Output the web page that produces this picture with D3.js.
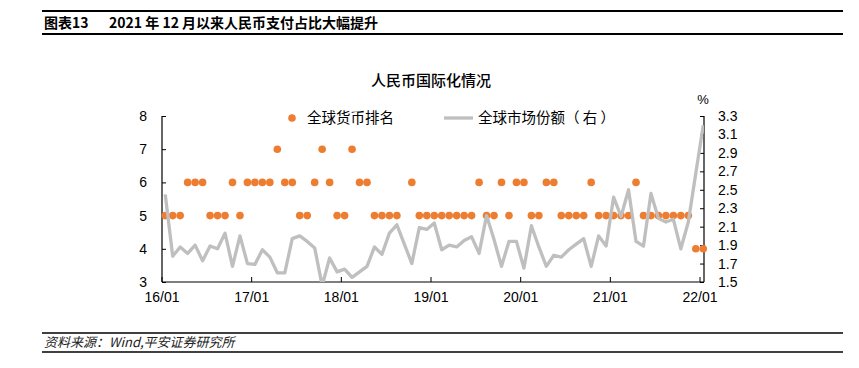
<!DOCTYPE html>
<html lang="zh">
  <head>
    <meta charset="UTF-8" />
    <title>人民币国际化情况</title>
    <style>
      body {
        margin: 0;
        background: #fff;
        font-family: "Liberation Sans", Arial, "Noto Sans CJK SC", sans-serif;
      }
      .cjk {
        font-family: "Noto Sans CJK SC", sans-serif;
      }
      .axis text {
        font-family: "Liberation Sans", Arial, sans-serif;
        font-size: 14px;
        fill: #000;
      }
    </style>
  </head>
  <body>
    <div id="chart"></div>
    <script src="https://d3js.org/d3.v7.min.js"></script>
    <script>
      // 月份：2016/01 — 2022/01
      const months = d3
        .timeMonths(new Date(2016, 0, 1), new Date(2022, 1, 1))
        .map((d) => d3.timeFormat("%y/%m")(d));

      // 全球货币排名（左轴），2018/09 缺失
      const rank = [
        5, 5, 5, 6, 6, 6, 5, 5, 5, 6, 5, 6,
        6, 6, 6, 7, 6, 6, 5, 5, 6, 7, 6, 5,
        5, 7, 6, 6, 5, 5, 5, 5, null, 6, 5, 5,
        5, 5, 5, 5, 5, 5, 6, 5, 5, 6, 5, 6,
        6, 5, 5, 6, 6, 5, 5, 5, 5, 6, 5, 5,
        5, 5, 5, 6, 5, 5, 5, 5, 5, 5, 5, 4, 4,
      ];

      // 全球市场份额 %（右轴）
      const share = [
        2.45, 1.78, 1.88, 1.81, 1.9, 1.73, 1.89, 1.86, 2.03, 1.67, 2.0, 1.7,
        1.69, 1.85, 1.77, 1.6, 1.6, 1.97, 2.0, 1.94, 1.87, 1.46, 1.76, 1.61,
        1.64, 1.55, 1.61, 1.67, 1.88, 1.8, 2.03, 2.12, null, 1.7, 2.09, 2.07,
        2.14, 1.85, 1.9, 1.88, 1.95, 1.99, 1.81, 2.22, 1.96, 1.67, 1.94, 1.94,
        1.65, 2.11, 1.88, 1.67, 1.79, 1.77, 1.85, 1.91, 1.97, 1.67, 2.0, 1.89,
        2.42, 2.21, 2.5, 1.94, 1.89, 2.46, 2.19, 2.15, 2.18, 1.86, 2.15, 2.68, 3.2,
      ];

      const xTickLabels = ["16/01", "17/01", "18/01", "19/01", "20/01", "21/01", "22/01"];
      const leftTicks = [3, 4, 5, 6, 7, 8];
      const rightTicks = [1.5, 1.7, 1.9, 2.1, 2.3, 2.5, 2.7, 2.9, 3.1, 3.3];

      const width = 859;
      const height = 368;
      const plot = { left: 162, right: 704, top: 116, bottom: 282 };

      const svg = d3
        .select("#chart")
        .append("svg")
        .attr("width", width)
        .attr("height", height);

      // 页眉与页脚
      svg.append("line").attr("x1", 42).attr("x2", 843).attr("y1", 11).attr("y2", 11)
        .attr("stroke", "#000").attr("stroke-width", 2);
      svg.append("line").attr("x1", 42).attr("x2", 843).attr("y1", 34).attr("y2", 34)
        .attr("stroke", "#000").attr("stroke-width", 2);
      svg.append("text")
        .attr("class", "cjk")
        .attr("x", 44)
        .attr("y", 28)
        .attr("font-size", 14)
        .attr("font-weight", "bold")
        .attr("fill", "#000")
        .text("图表13");
      svg.append("text")
        .attr("class", "cjk")
        .attr("x", 109)
        .attr("y", 28)
        .attr("font-size", 14)
        .attr("font-weight", "bold")
        .attr("fill", "#000")
        .text("2021 年 12 月以来人民币支付占比大幅提升");

      svg.append("line").attr("x1", 42).attr("x2", 843).attr("y1", 333).attr("y2", 333)
        .attr("stroke", "#000").attr("stroke-width", 1.5);
      svg.append("line").attr("x1", 42).attr("x2", 843).attr("y1", 352).attr("y2", 352)
        .attr("stroke", "#000").attr("stroke-width", 1.5);
      svg.append("text")
        .attr("class", "cjk")
        .attr("x", 44)
        .attr("y", 347)
        .attr("font-size", 13)
        .attr("font-style", "italic")
        .attr("fill", "#222")
        .text("资料来源：Wind,平安证券研究所");

      // 图表标题
      svg.append("text")
        .attr("class", "cjk")
        .attr("x", 431)
        .attr("y", 86)
        .attr("text-anchor", "middle")
        .attr("font-size", 15)
        .attr("font-weight", 500)
        .attr("fill", "#000")
        .text("人民币国际化情况");

      // 比例尺
      const x = d3.scaleBand().domain(months).range([plot.left - 0.5, plot.right + 3]);
      const xTick = d3.scaleLinear().domain([0, months.length]).range(x.range());
      const yL = d3.scaleLinear().domain([3, 8]).range([plot.bottom, plot.top]);
      const yR = d3.scaleLinear().domain([1.5, 3.3]).range([plot.bottom, plot.top]);
      const cx = (i) => x(months[i]) + x.bandwidth() / 2;

      // 坐标轴
      svg.append("g")
        .attr("class", "axis")
        .attr("transform", `translate(${plot.left},0)`)
        .call(d3.axisLeft(yL).tickValues(leftTicks).tickFormat(d3.format("d"))
          .tickSize(-4).tickSizeOuter(0).tickPadding(15))
        .call((g) => g.select(".domain").remove());

      svg.append("g")
        .attr("class", "axis")
        .attr("transform", `translate(${plot.right},0)`)
        .call(d3.axisRight(yR).tickValues(rightTicks).tickFormat(d3.format(".1f"))
          .tickSize(-4).tickSizeOuter(0).tickPadding(14))
        .call((g) => g.select(".domain").remove());

      svg.append("g")
        .attr("class", "axis")
        .attr("transform", `translate(0,${plot.bottom})`)
        .call(d3.axisBottom(xTick).tickValues(d3.range(0, months.length, 12))
          .tickFormat((d, i) => xTickLabels[i]).tickSize(-5).tickSizeOuter(0).tickPadding(10))
        .call((g) => g.select(".domain").remove());

      svg.selectAll(".axis .tick line").attr("stroke", "#000");

      const axisLines = [
        [plot.left, plot.top, plot.left, plot.bottom],
        [plot.right, plot.top, plot.right, plot.bottom],
        [plot.left, plot.bottom, plot.right, plot.bottom],
      ];
      svg.selectAll(".axis-line")
        .data(axisLines)
        .enter()
        .append("line")
        .attr("x1", (d) => d[0]).attr("y1", (d) => d[1])
        .attr("x2", (d) => d[2]).attr("y2", (d) => d[3])
        .attr("stroke", "#000")
        .attr("stroke-width", 1.2);

      svg.append("text")
        .attr("x", 703)
        .attr("y", 104)
        .attr("text-anchor", "middle")
        .attr("font-size", 13)
        .text("%");

      // 裁剪区
      svg.append("clipPath").attr("id", "plot-clip")
        .append("rect")
        .attr("x", plot.left).attr("y", plot.top)
        .attr("width", plot.right - plot.left).attr("height", plot.bottom - plot.top);

      // 排名散点
      const rankPts = rank.map((v, i) => ({ i, v })).filter((d) => d.v != null);
      svg.append("g")
        .selectAll("circle")
        .data(rankPts)
        .enter()
        .append("circle")
        .attr("cx", (d) => cx(d.i))
        .attr("cy", (d) => yL(d.v))
        .attr("r", 3.8)
        .attr("fill", "#ED7D31");

      // 市场份额折线
      const sharePts = share.map((v, i) => ({ i, v })).filter((d) => d.v != null);
      svg.append("path")
        .datum(sharePts)
        .attr("clip-path", "url(#plot-clip)")
        .attr("fill", "none")
        .attr("stroke", "#BFBFBF")
        .attr("stroke-width", 3.3)
        .attr("stroke-linejoin", "round")
        .attr("d", d3.line().x((d) => cx(d.i)).y((d) => yR(d.v)));

      // 图例
      const legend = svg.append("g").attr("class", "cjk");
      legend.append("circle").attr("cx", 292).attr("cy", 118).attr("r", 3.8).attr("fill", "#ED7D31");
      legend.append("text").attr("x", 307).attr("y", 123).attr("font-size", 14.5).text("全球货币排名");
      legend.append("line").attr("x1", 444).attr("x2", 473).attr("y1", 118).attr("y2", 118)
        .attr("stroke", "#BFBFBF").attr("stroke-width", 3.3);
      legend.append("text").attr("x", 478).attr("y", 123).attr("font-size", 14.5)
        .attr("xml:space", "preserve").text("全球市场份额（ 右 ）");
    </script>
  </body>
</html>
